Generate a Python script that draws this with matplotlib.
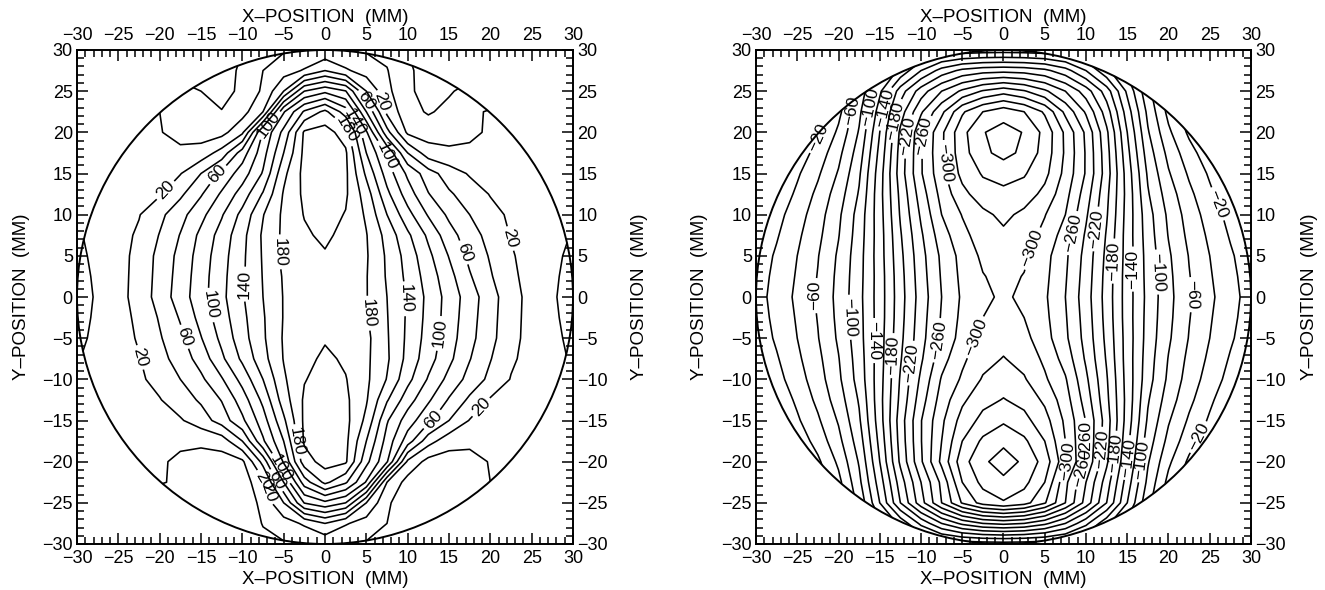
"""
Two circular contour maps over a 60 x 60 mm field (X-/Y-position in mm).
Left: positive field, contour step 20.  Right: negative field, contour step 20.
"""

import numpy as np
import matplotlib
matplotlib.use("Agg")
import matplotlib.pyplot as plt
from matplotlib.patches import Circle
from matplotlib.ticker import MultipleLocator

plt.rcParams["font.family"] = ["Liberation Sans", "DejaVu Sans"]

# ── Data ──────────────────────────────────────────────────────────────────────

# sample positions (mm), same for x and y
GRID_MM = [-30.0, -27.5, -25.0, -22.5, -20.0, -17.5, -15.0, -12.5, -10.0, -7.5, -5.0, -2.5, 0.0,
           2.5, 5.0, 7.5, 10.0, 12.5, 15.0, 17.5, 20.0, 22.5, 25.0, 27.5, 30.0]

# left map, rows from y = +30 (top) down to y = -30, columns x = -30 .. +30
FIELD_LEFT = [
    [-5, -8, -12, -15, -18, -22, -25, -28, -20, -5, -2, 0, 4, 0, -2, -5, -20, -28, -25, -22, -18, -15, -12, -8, -5],
    [-5, -10, -15, -20, -24, -27, -30, -27, -17, 0, 11, 22, 40, 23, 11, 1, -17, -27, -30, -27, -24, -20, -15, -10, -5],
    [0, 0, -3, -6, -10, -14, -20, -28, -15, 3, 40, 100, 115, 101, 40, 5, -16, -28, -22, -14, -8, -4, -2, -1, 0],
    [2, 2, 2, 1, 0, -8, -18, -19, -8, 20, 118, 163, 185, 150, 80, 15, -13, -22, -15, -2, 1, 1, 0, 0, 0],
    [2, 2, 2, 1, 1, -6, -9, -7, 16, 102, 146, 203, 208, 191, 123, 47, -4, -9, -8, -3, 2, 2, 1, 0, -1],
    [-4, -2, 0, 2, 3, 4, 8, 28, 70, 112, 160, 205, 209, 203, 140, 97, 40, 9, 4, 3, 4, 4, 2, 0, -2],
    [-2, 0, 3, 8, 14, 19, 40, 65, 90, 122, 175, 206, 210, 204, 156, 111, 76, 49, 30, 18, 14, 9, 5, 1, -1],
    [0, 2, 7, 13, 18, 36, 58, 83, 109, 142, 182, 204, 209, 203, 170, 125, 90, 61, 43, 30, 19, 13, 8, 3, 0],
    [0, 4, 12, 19, 35, 53, 74, 98, 126, 159, 184, 201, 207, 199, 177, 140, 107, 78, 56, 40, 26, 17, 11, 5, 1],
    [-2, 5, 13, 23, 41, 61, 85, 108, 134, 163, 184, 197, 204, 194, 181, 153, 124, 96, 68, 49, 33, 19, 12, 5, -1],
    [-4, 4, 13, 26, 46, 66, 89, 112, 136, 162, 185, 195, 198, 194, 182, 157, 132, 105, 79, 55, 38, 22, 12, 4, -4],
    [-6, 3, 13, 27, 47, 68, 91, 114, 137, 161, 182, 190, 193, 190, 181, 158, 135, 111, 87, 62, 42, 24, 13, 3, -6],
    [-7, 2, 13, 28, 48, 70, 92, 115, 138, 160, 181, 188, 190, 188, 181, 160, 138, 115, 92, 70, 48, 28, 13, 2, -7],
    [-6, 3, 13, 24, 42, 62, 87, 111, 135, 158, 181, 190, 193, 190, 182, 161, 137, 114, 91, 68, 47, 27, 13, 3, -6],
    [-4, 4, 12, 22, 38, 55, 79, 105, 132, 157, 182, 194, 198, 195, 185, 162, 136, 112, 89, 66, 46, 26, 13, 4, -4],
    [-1, 5, 12, 19, 33, 49, 68, 96, 124, 153, 181, 194, 204, 197, 184, 163, 134, 108, 85, 61, 41, 23, 13, 5, -2],
    [1, 5, 11, 17, 26, 40, 56, 78, 107, 140, 177, 199, 207, 201, 184, 159, 126, 98, 74, 53, 35, 19, 12, 4, 0],
    [0, 3, 8, 13, 19, 30, 43, 61, 90, 125, 170, 203, 209, 204, 182, 142, 109, 83, 58, 36, 18, 13, 7, 2, 0],
    [-1, 1, 5, 9, 14, 18, 30, 49, 76, 111, 156, 204, 210, 206, 175, 122, 90, 65, 40, 19, 14, 8, 3, 0, -2],
    [-2, 0, 2, 4, 4, 3, 4, 9, 40, 97, 140, 203, 209, 205, 160, 112, 70, 28, 8, 4, 3, 2, 0, -2, -4],
    [-1, 0, 1, 2, 2, -3, -8, -9, -4, 47, 123, 191, 208, 203, 146, 102, 16, -7, -9, -6, 1, 1, 2, 2, 2],
    [0, 0, 0, 1, 1, -2, -14, -16, -11, 15, 80, 150, 185, 163, 118, 20, -8, -15, -14, -8, 0, 1, 2, 2, 2],
    [0, -1, -2, -4, -8, -12, -14, -15, -12, 5, 40, 101, 115, 100, 40, 3, -12, -15, -14, -12, -10, -6, -3, 0, 0],
    [-5, -10, -14, -15, -15, -15, -15, -15, -13, 1, 11, 23, 40, 22, 11, 0, -13, -15, -15, -15, -15, -15, -14, -10, -5],
    [-5, -8, -12, -14, -15, -15, -15, -15, -15, -5, -2, 0, 4, 0, -2, -5, -15, -15, -15, -15, -15, -14, -12, -8, -5],
]

# right map, same layout
FIELD_RIGHT = [
    [20, 15, 5, -10, -30, -55, -80, -100, -115, -122, -127, -129, -130, -129, -127, -122, -115, -100, -80, -55, -30, -10, 5, 15, 20],
    [20, 15, 5, -10, -35, -65, -95, -125, -160, -188, -205, -212, -214, -212, -205, -188, -160, -125, -95, -65, -35, -10, 5, 15, 20],
    [20, 15, 5, -10, -35, -65, -116, -170, -210, -240, -264, -282, -292, -282, -264, -240, -210, -170, -116, -65, -35, -10, 5, 15, 20],
    [20, 15, 6, -8, -34, -75, -130, -190, -237, -275, -317, -340, -352, -340, -317, -275, -237, -190, -130, -75, -34, -8, 6, 15, 20],
    [15, 10, 2, -16, -44, -82, -140, -204, -256, -296, -334, -359, -367, -359, -334, -296, -256, -204, -140, -82, -44, -16, 2, 10, 15],
    [10, 5, -7, -28, -54, -90, -146, -208, -258, -297, -332, -355, -367, -355, -332, -297, -258, -208, -146, -90, -54, -28, -7, 5, 10],
    [5, 0, -17, -37, -62, -97, -151, -210, -258, -294, -326, -342, -346, -342, -326, -294, -258, -210, -151, -97, -62, -37, -17, 0, 5],
    [5, -5, -24, -45, -70, -102, -153, -205, -250, -287, -314, -331, -336, -331, -314, -287, -250, -205, -153, -102, -70, -45, -24, -5, 5],
    [2, -13, -31, -51, -76, -108, -152, -202, -243, -280, -301, -315, -325, -315, -301, -280, -243, -202, -152, -108, -76, -51, -31, -13, 2],
    [-5, -18, -36, -55, -79, -110, -151, -198, -237, -271, -294, -310, -316, -310, -294, -271, -237, -198, -151, -110, -79, -55, -36, -18, -5],
    [-7, -23, -40, -59, -83, -112, -151, -195, -233, -264, -287, -304, -310, -304, -287, -264, -233, -195, -151, -112, -83, -59, -40, -23, -7],
    [-9, -26, -42, -61, -85, -113, -150, -193, -231, -262, -285, -299, -306, -299, -285, -262, -231, -193, -150, -113, -85, -61, -42, -26, -9],
    [-11, -28, -44, -63, -86, -114, -150, -192, -229, -260, -283, -295, -304, -295, -283, -260, -229, -192, -150, -114, -86, -63, -44, -28, -11],
    [-9, -26, -42, -61, -85, -113, -150, -193, -231, -262, -285, -300, -307, -300, -285, -262, -231, -193, -150, -113, -85, -61, -42, -26, -9],
    [-7, -23, -40, -59, -83, -112, -151, -195, -233, -264, -288, -306, -313, -306, -288, -264, -233, -195, -151, -112, -83, -59, -40, -23, -7],
    [-5, -18, -36, -55, -79, -110, -151, -198, -237, -272, -296, -313, -321, -313, -296, -272, -237, -198, -151, -110, -79, -55, -36, -18, -5],
    [2, -13, -31, -51, -76, -108, -152, -202, -244, -282, -303, -322, -331, -322, -303, -282, -244, -202, -152, -108, -76, -51, -31, -13, 2],
    [5, -5, -24, -45, -70, -102, -153, -205, -251, -289, -316, -334, -341, -334, -316, -289, -251, -205, -153, -102, -70, -45, -24, -5, 5],
    [5, 0, -17, -37, -62, -97, -151, -210, -259, -296, -328, -346, -357, -346, -328, -296, -259, -210, -151, -97, -62, -37, -17, 0, 5],
    [10, 5, -7, -28, -54, -90, -146, -208, -259, -300, -340, -364, -375, -364, -340, -300, -259, -208, -146, -90, -54, -28, -7, 5, 10],
    [15, 10, 2, -16, -44, -82, -140, -204, -257, -305, -352, -376, -390, -376, -352, -305, -257, -204, -140, -82, -44, -16, 2, 10, 15],
    [20, 15, 6, -8, -34, -75, -130, -190, -240, -285, -340, -366, -375, -366, -340, -285, -240, -190, -130, -75, -34, -8, 6, 15, 20],
    [20, 15, 5, -10, -35, -65, -120, -180, -232, -280, -322, -348, -358, -348, -322, -280, -232, -180, -120, -65, -35, -10, 5, 15, 20],
    [20, 15, 5, -10, -35, -65, -95, -125, -165, -200, -225, -240, -245, -240, -225, -200, -165, -125, -95, -65, -35, -10, 5, 15, 20],
    [20, 15, 5, -10, -30, -55, -80, -100, -115, -122, -127, -129, -130, -129, -127, -122, -115, -100, -80, -55, -30, -10, 5, 15, 20],
]

# unlabeled / labeled contour levels
PLAIN_LEFT   = [-20, 0, 40, 80, 120, 160, 200]
LABELED_LEFT = [20, 60, 100, 140, 180]
PLAIN_RIGHT   = [-380, -360, -340, -320, -280, -240, -200, -160, -120, -80, -40]
LABELED_RIGHT = [-300, -260, -220, -180, -140, -100, -60, -20]

MAJOR_TICKS = [-30, -25, -20, -15, -10, -5, 0, 5, 10, 15, 20, 25, 30]

# where the contour labels sit (mm)
SPOTS_LEFT = [(-18.8, 12.5), (-13, 14.9), (-6.9, 21.0), (2.8, 20.4), (3.8, 21.3), (5.3, 24.1),
              (6.6, 23.6), (7.6, 17.2), (22.4, 7.1), (16.5, 5.3), (9.4, -0.2), (4.6, -2),
              (13.5, -4.4), (13, -14.9), (18.6, -13.1), (-6.4, 5.5), (-10.7, 1.6), (-14.5, -1.1),
              (-18.6, -5.3), (-23.6, -7.6), (-3.6, -17.6), (-5.3, -20.8), (-6.1, -22.4),
              (-6.4, -23.6), (-8.9, -23.1)]
SPOTS_RIGHT = [(-21.1, 18.8), (-18.8, 22.7), (-16.3, 23.1), (-14.8, 23.0), (-13.5, 21.5),
               (-11.2, 19.5), (-9.6, 19.5), (-7.6, 16.3),
               (-23.2, 0.2), (-19.8, -2.5), (-16.5, -5.3), (-14, -7.1), (-11.4, -8), (-7.8, -5.3),
               (-3.7, -4.8),
               (2.7, 6.2), (7.3, 8), (9.3, 8.5), (12.4, 4.4), (14.9, 3.4), (18, 3), (22.1, 0.2),
               (24.7, 10.8),
               (7.8, -19.9), (8.8, -20.5), (10.8, -17.4), (12, -18.5), (13.8, -19), (15, -19.5),
               (17.5, -19.9), (22.1, -16.3)]

XLABEL = "X\u2013POSITION  (MM)"
YLABEL = "Y\u2013POSITION  (MM)"

# ── Helpers ───────────────────────────────────────────────────────────────────

def fmt_level(v):
    return f"{v:.0f}".replace("-", "\u2212")


def draw_panel(ax, rows, plain, labeled, spots):
    z = np.array(rows, dtype=float)[::-1]          # bottom row first
    rim = Circle((0, 0), 30, transform=ax.transData, fill=False, ec="black", lw=1.4, zorder=3)
    ax.add_patch(rim)

    style = dict(colors="black", linewidths=1.15, negative_linestyles="solid")
    cs_plain = ax.contour(GRID_MM, GRID_MM, z, levels=plain, **style)
    cs_lab = ax.contour(GRID_MM, GRID_MM, z, levels=labeled, **style)
    ax.clabel(cs_lab, manual=spots, inline=True, inline_spacing=3, fontsize=12.5, fmt=fmt_level)
    cs_plain.set_clip_path(rim)
    cs_lab.set_clip_path(rim)

    ax.set_xlim(-30, 30)
    ax.set_ylim(-30, 30)
    for axis in (ax.xaxis, ax.yaxis):
        axis.set_major_locator(MultipleLocator(5))
        axis.set_minor_locator(MultipleLocator(1))
    ax.set_xticks(MAJOR_TICKS)
    ax.set_yticks(MAJOR_TICKS)
    ax.tick_params(which="both", direction="in", top=True, right=True,
                   labeltop=True, labelright=True, width=1.1, labelsize=13)
    ax.tick_params(axis="x", which="major", pad=4.5)
    ax.tick_params(axis="y", which="major", pad=3)
    ax.tick_params(which="major", length=8)
    ax.tick_params(which="minor", length=5)
    for sp in ax.spines.values():
        sp.set_linewidth(1.4)


# ── Figure ────────────────────────────────────────────────────────────────────

W, H = 1325, 590
fig = plt.figure(figsize=(W / 100, H / 100), dpi=100)

ax_l = fig.add_axes([77 / W, 46 / H, 496 / W, 494 / H])
ax_r = fig.add_axes([756 / W, 46 / H, 495 / W, 494 / H])

draw_panel(ax_l, FIELD_LEFT, PLAIN_LEFT, LABELED_LEFT, SPOTS_LEFT)
draw_panel(ax_r, FIELD_RIGHT, PLAIN_RIGHT, LABELED_RIGHT, SPOTS_RIGHT)

lab = dict(fontsize=13.5, ha="center", va="center")
for cx, ylx, yrx in [(325, 22, 640), (1003.5, 700, 1310)]:
    fig.text(cx / W, 1 - 18 / H, XLABEL, **lab)
    fig.text(cx / W, 1 - 579 / H, XLABEL, **lab)
    fig.text(ylx / W, 1 - 297 / H, YLABEL, rotation=90, **lab)
    fig.text(yrx / W, 1 - 297 / H, YLABEL, rotation=90, **lab)

fig.savefig("out.png", dpi=100)
